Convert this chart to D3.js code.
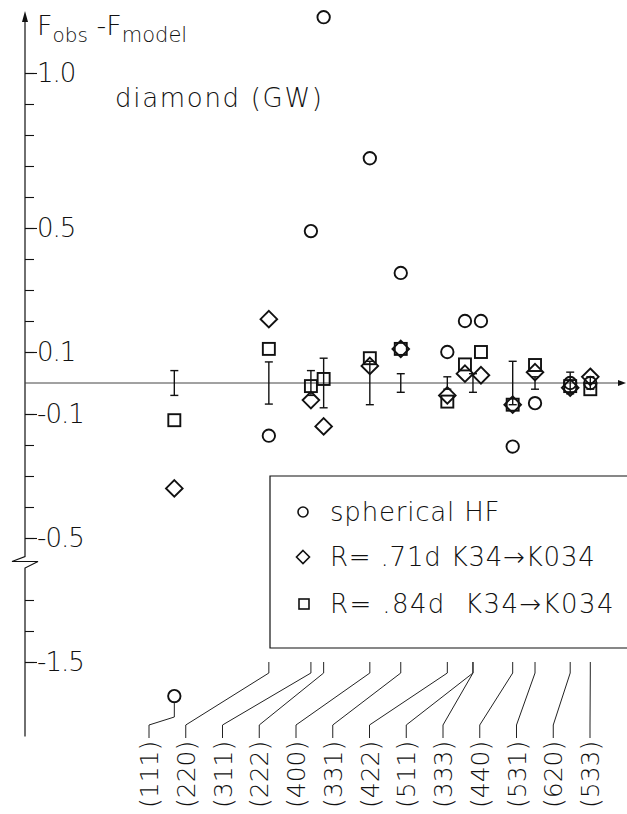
<!DOCTYPE html>
<html lang="en">
<head>
<meta charset="UTF-8">
<title>diamond (GW): Fobs - Fmodel</title>
<script src="https://cdn.jsdelivr.net/npm/d3@7"></script>
<style>
  body { margin: 0; background: #fff; }
  svg text { font-family: "DejaVu Sans", sans-serif; font-weight: 200; fill: #111; white-space: pre; }
</style>
</head>
<body>
<div id="chart"></div>
<script>
// reflections, ordered by sin(theta)/lambda (a = 3.567 A)
var reflections = ["(111)", "(220)", "(311)", "(222)", "(400)", "(331)", "(422)",
                   "(511)", "(333)", "(440)", "(531)", "(620)", "(533)"];
var sinThetaOverLambda = [0.2428, 0.3965, 0.4649, 0.4856, 0.5607, 0.6110, 0.6867,
                          0.7284, 0.7284, 0.7930, 0.8293, 0.8865, 0.9192];
// (511) and (333) coincide, they are drawn left / right of each other
var pairSide = [0, 0, 0, 0, 0, 0, 0, -1, 1, 0, 0, 0, 0];

// Fobs - Fmodel
var sphericalHF = [-1.61, -0.17, 0.49, 1.18, 0.725, 0.355, 0.10, 0.20, 0.20, -0.205, -0.065, 0.0, 0.0];
var kappaR71 = [-0.34, 0.206, -0.055, -0.14, 0.055, 0.11, -0.04, 0.03, 0.025, -0.07, 0.035, -0.015, 0.02];
var kappaR84 = [-0.12, 0.11, -0.01, 0.013, 0.08, 0.11, -0.06, 0.06, 0.10, -0.07, 0.058, -0.01, -0.02];
// half length of the error bar, one bar for (511)/(333)
var sigmaF = [0.04, 0.068, 0.04, 0.08, 0.07, 0.03, 0.02, 0.03, null, 0.07, 0.02, 0.035, 0.02];

var minorTicks = [1.0, 0.9, 0.8, 0.7, 0.6, 0.5, 0.4, 0.3, 0.2, 0.1, -0.1, -0.2, -0.3, -0.4, -0.5, -1.3, -1.4, -1.5];
var majorTicks = [1.0, 0.5, 0.1, -0.1, -0.5, -1.5];
var majorLabels = ["1.0", "0.5", "0.1", "-0.1", "-0.5", "-1.5"];

var legendLabels = ["spherical HF", "R= .71d K34\u2192K034", "R= .84d  K34\u2192K034"];

var width = 627, height = 814;
var svg = d3.select("#chart").append("svg")
    .attr("width", width)
    .attr("height", height);

var xScale = d3.scaleLinear().domain([0, 1]).range([25, 640]);

// broken y axis: same slope above and below the break, gap between -1.2 and -0.55
var y0 = 383, k = 310, shift = 0.6;
var yScale = d3.scaleLinear()
    .domain([-1.75, -1.2, -0.55, 1.25])
    .range([y0 - k * (-1.75 + shift), y0 - k * (-1.2 + shift), y0 - k * (-0.55), y0 - k * 1.25]);

var labelScale = d3.scalePoint().domain(reflections).range([149, 590]);

var pairGap = 8;
function px(i) { return xScale(sinThetaOverLambda[i]) + pairSide[i] * pairGap; }

var axisX = xScale(0);

// ---- y axis line with break and arrow
var yTop = yScale(1.2), yBreakTop = yScale(-0.55), yBreakBot = yScale(-1.2), yBottom = yScale(-1.74);
svg.append("path")
    .attr("d", "M" + axisX + "," + (yTop + 8) + "V" + (yBreakTop + 3) +
               "L" + (axisX - 13) + "," + (yBreakTop + 8) + "H" + (axisX + 13) +
               "L" + axisX + "," + (yBreakBot - 1) + "V" + yBottom)
    .attr("fill", "none").attr("stroke", "#111").attr("stroke-width", 1.2);
svg.append("path")
    .attr("d", "M" + axisX + "," + yTop + "l-3,11h6z")
    .attr("fill", "#111");

var minorAxis = svg.append("g")
    .attr("transform", "translate(" + axisX + ",0)")
    .call(d3.axisRight(yScale).tickValues(minorTicks).tickSize(9).tickSizeOuter(0).tickFormat(""));
var majorAxis = svg.append("g")
    .attr("transform", "translate(" + axisX + ",0)")
    .call(d3.axisRight(yScale).tickValues(majorTicks).tickSize(12).tickSizeOuter(0).tickPadding(0)
        .tickFormat(function(d, i) { return majorLabels[i]; }));
svg.selectAll(".domain").remove();
svg.selectAll(".tick line").attr("stroke", "#111").attr("stroke-width", 1.1);
majorAxis.selectAll("text")
    .style("font-size", "26px")
    .style("letter-spacing", "-1px")
    .attr("fill", "#111");

// axis title
var title = svg.append("text").attr("x", 37).attr("y", 35).style("font-size", "27px");
title.append("tspan").text("F");
title.append("tspan").attr("dy", 7).style("font-size", "20px").text("obs");
title.append("tspan").attr("dy", -7).text(" -F");
title.append("tspan").attr("dy", 7).style("font-size", "21px").text("model");

svg.append("text")
    .attr("x", 115).attr("y", 107)
    .style("font-size", "26px")
    .style("letter-spacing", "1.7px")
    .text("diamond (GW)");

// ---- zero line with arrow
svg.append("line")
    .attr("x1", axisX).attr("x2", 618)
    .attr("y1", yScale(0)).attr("y2", yScale(0))
    .attr("stroke", "#444").attr("stroke-width", 1);
svg.append("path")
    .attr("d", "M626," + yScale(0) + "l-8,-3v6z")
    .attr("fill", "#111");

// ---- error bars
var bars = svg.append("g").attr("stroke", "#111").attr("stroke-width", 1.4);
sigmaF.forEach(function(s, i) {
    if (s == null) return;
    var x = xScale(sinThetaOverLambda[i]);
    var top = yScale(s), bot = yScale(-s);
    bars.append("line").attr("x1", x).attr("x2", x).attr("y1", top).attr("y2", bot);
    bars.append("line").attr("x1", x - 4).attr("x2", x + 4).attr("y1", top).attr("y2", top);
    bars.append("line").attr("x1", x - 4).attr("x2", x + 4).attr("y1", bot).attr("y2", bot);
});

// ---- markers
var marks = svg.append("g").attr("fill", "none").attr("stroke", "#111").attr("stroke-width", 1.9);

function drawCircle(g, x, y, r) {
    g.append("circle").attr("cx", x).attr("cy", y).attr("r", r);
}
function drawDiamond(g, x, y, h) {
    g.append("path").attr("d", "M" + x + "," + (y - h) + "L" + (x + h) + "," + y +
        "L" + x + "," + (y + h) + "L" + (x - h) + "," + y + "Z");
}
function drawSquare(g, x, y, a) {
    g.append("rect").attr("x", x - a / 2).attr("y", y - a / 2).attr("width", a).attr("height", a);
}

sphericalHF.forEach(function(v, i) { drawCircle(marks, px(i), yScale(v), 6.2); });
kappaR71.forEach(function(v, i) { drawDiamond(marks, px(i), yScale(v), 8.3); });
kappaR84.forEach(function(v, i) { drawSquare(marks, px(i), yScale(v), 12); });

// ---- legend box
var lg = svg.append("g");
lg.append("path")
    .attr("d", "M" + width + ",476H270V648H" + width)
    .attr("fill", "none").attr("stroke", "#111").attr("stroke-width", 1.2);
var legendY = [512, 557, 604];
var lm = lg.append("g").attr("fill", "none").attr("stroke", "#111").attr("stroke-width", 1.6);
drawCircle(lm, 303, legendY[0], 5);
drawDiamond(lm, 303, legendY[1], 6.5);
drawSquare(lm, 304, legendY[2], 10);
lg.selectAll("text.leg")
    .data(legendLabels)
    .enter()
    .append("text")
    .attr("class", "leg")
    .attr("x", 330)
    .attr("y", function(d, i) { return legendY[i] + 9; })
    .style("font-size", "26px")
    .style("letter-spacing", function(d, i) { return i == 2 ? "1.4px" : "0.8px"; })
    .text(function(d) { return d; });

// ---- reflection labels and leader lines
var leaders = svg.append("g").attr("fill", "none").attr("stroke", "#222").attr("stroke-width", 1);
reflections.forEach(function(r, i) {
    var lx = labelScale(r);
    var cx = xScale(sinThetaOverLambda[i]);
    var d;
    if (sphericalHF[i] < -0.55) {
        // point below the break: line runs from the circle itself
        var cy = yScale(sphericalHF[i]);
        d = "M" + px(i) + "," + (cy + 7) + "V717L" + lx + ",725V738";
    } else {
        d = "M" + cx + ",662V673L" + lx + ",725V738";
    }
    leaders.append("path").attr("d", d);
    svg.append("text")
        .attr("transform", "translate(" + lx + ",808) rotate(-90)")
        .attr("dy", "0.36em")
        .style("font-size", "25px")
        .text(r);
});
</script>
</body>
</html>
